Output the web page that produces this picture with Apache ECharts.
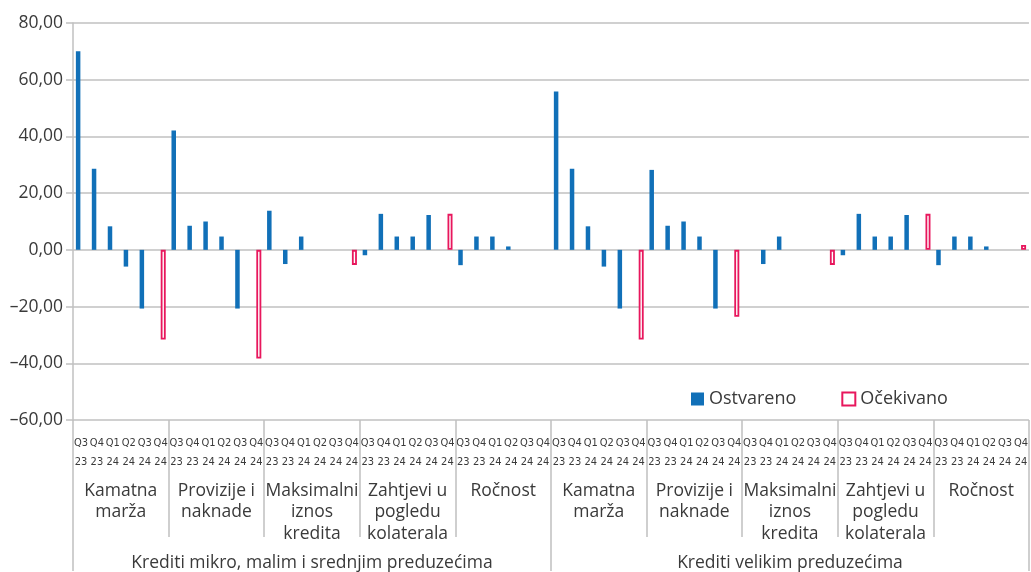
<!DOCTYPE html>
<html>
<head>
    <meta charset="UTF-8">
    <title>Krediti</title>
    <script src="https://cdn.jsdelivr.net/npm/echarts@6/dist/echarts.min.js"></script>
    <style>
        html, body { margin: 0; padding: 0; background: #fff; }
    </style>
</head>
<body>
<div id="main" style="width:1031px;height:572px"></div>
<script>
    var quarters = ['Q3\n23', 'Q4\n23', 'Q1\n24', 'Q2\n24', 'Q3\n24', 'Q4\n24'];
    var factors = ['Kamatna\nmarža', 'Provizije i\nnaknade', 'Maksimalni\niznos\nkredita', 'Zahtjevi u\npogledu\nkolaterala', 'Ročnost'];
    var groups = ['Krediti mikro, malim i srednjim preduzećima', 'Krediti velikim preduzećima'];

    // ostvareno: Q3 23 .. Q3 24 for each factor
    var actualSme = [
        70.0, 28.6, 8.3, -5.9, -20.7,
        42.1, 8.5, 10.0, 4.7, -20.7,
        13.8, -5.0, 4.7, 0, 0,
        -1.9, 12.7, 4.7, 4.7, 12.3,
        -5.4, 4.7, 4.7, 1.2, 0
    ];
    var actualLarge = [
        55.8, 28.6, 8.3, -5.9, -20.7,
        28.2, 8.5, 10.0, 4.7, -20.7,
        0, -5.0, 4.7, 0, 0,
        -1.9, 12.7, 4.7, 4.7, 12.3,
        -5.4, 4.7, 4.7, 1.2, 0
    ];
    // očekivano: Q4 24 for each factor (null = no bar)
    var expectedSme = [-31.6, -38.3, -5.3, 12.7, null];
    var expectedLarge = [-31.6, -23.6, -5.3, 12.7, 1.7];

    var blue = '#1170b8';
    var pink = '#e8175d';
    var grey = '#c0c0c0';
    var textColor = '#3a3a3a';

    var cats = [], actual = [], expected = [];
    [[actualSme, expectedSme], [actualLarge, expectedLarge]].forEach(function (g) {
        for (var f = 0; f < factors.length; f++) {
            for (var q = 0; q < quarters.length; q++) {
                cats.push(quarters[q]);
                if (q < 5) {
                    actual.push(g[0][f * 5 + q]);
                    expected.push(null);
                } else {
                    actual.push(null);
                    expected.push(g[1][f]);
                }
            }
        }
    });
    var factorCats = factors.concat(factors);

    var myChart = echarts.init(document.getElementById('main'));

    var option = {
        animation: false,
        textStyle: { fontFamily: 'Open Sans, sans-serif' },
        grid: { left: 73, top: 23, width: 960, bottom: 151, containLabel: false },
        legend: {
            left: 691,
            top: 390,
            padding: 0,
            itemWidth: 13,
            itemHeight: 13,
            itemGap: 45,
            textStyle: { fontSize: 18, color: textColor, fontFamily: 'Open Sans, sans-serif' },
            data: [
                { name: 'Ostvareno', icon: 'rect', itemStyle: { color: blue } },
                { name: 'Očekivano', icon: 'rect', itemStyle: { color: '#fff', borderColor: pink, borderWidth: 2 } }
            ]
        },
        xAxis: [{
            type: 'category',
            data: cats,
            axisLine: { show: false, onZero: false },
            axisTick: { show: false },
            axisLabel: {
                interval: 0,
                margin: 13,
                fontSize: 11,
                lineHeight: 19.5,
                color: textColor,
                fontFamily: "'Liberation Sans Narrow', 'DejaVu Sans Condensed', sans-serif"
            }
        }, {
            type: 'category',
            data: factorCats,
            position: 'bottom',
            axisLine: { show: false, onZero: false },
            axisTick: { show: true, length: 117, lineStyle: { color: grey, width: 1.5 } },
            axisLabel: {
                interval: 0,
                margin: 60,
                fontSize: 17.5,
                lineHeight: 21.5,
                color: textColor
            }
        }, {
            type: 'category',
            data: groups,
            position: 'bottom',
            axisLine: { show: false, onZero: false },
            axisTick: { show: true, length: 151, lineStyle: { color: grey, width: 1.5 } },
            axisLabel: {
                interval: 0,
                margin: 134,
                fontSize: 17.5,
                color: textColor
            }
        }],
        yAxis: {
            type: 'value',
            min: -60,
            max: 80,
            interval: 20,
            axisLine: { show: true, lineStyle: { color: grey, width: 1.5 } },
            axisTick: { show: true, length: 7, lineStyle: { color: grey, width: 1.5 } },
            splitLine: { lineStyle: { color: grey, width: 1.5 } },
            axisLabel: {
                margin: 10,
                fontSize: 17.5,
                color: textColor,
                formatter: function (v) {
                    return v.toFixed(2).replace('.', ',').replace('-', '–');
                }
            }
        },
        series: [{
            name: 'Ostvareno',
            type: 'bar',
            data: actual,
            barWidth: 4.5,
            barGap: '15%',
            itemStyle: { color: blue }
        }, {
            name: 'Očekivano',
            type: 'bar',
            data: expected,
            barWidth: 5,
            itemStyle: { color: '#fff', borderColor: pink, borderWidth: 1.8 }
        }]
    };

    myChart.setOption(option);
</script>
</body>
</html>
